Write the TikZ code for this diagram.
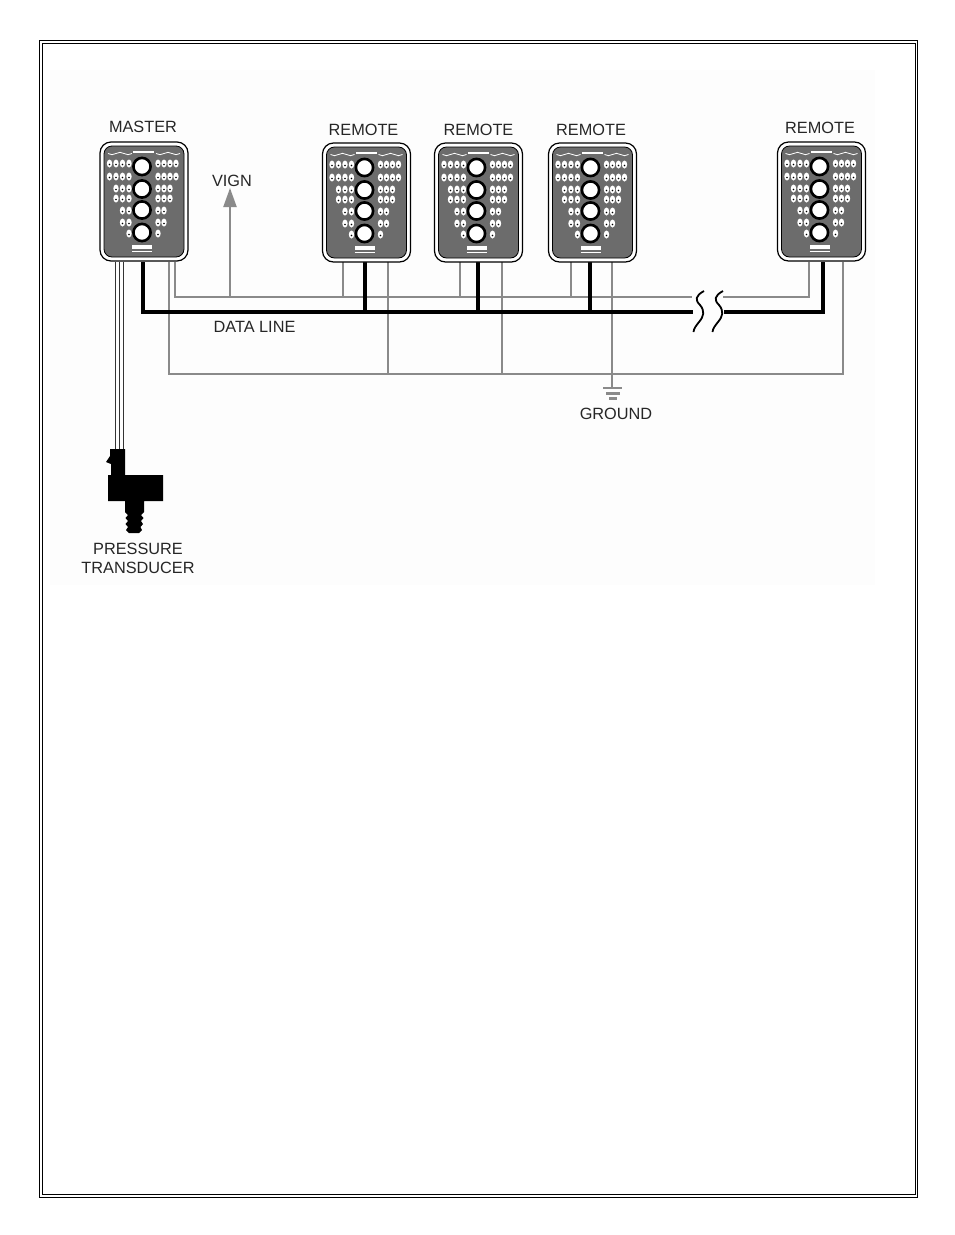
\documentclass[tikz,border=0pt]{standalone}
\usepackage{fontspec}
\setmainfont{Liberation Sans}
\usetikzlibrary{arrows.meta}
\definecolor{wiregray}{HTML}{8A8A8A}
\definecolor{facegray}{HTML}{6C6C6C}
\tikzset{
  lbl/.style={inner sep=0pt,text=black!85,font=\fontsize{16.3}{19}\selectfont,align=center},
  wire/.style={draw=wiregray,line width=2.1pt},
  dataline/.style={draw=black,line width=3.4pt},
  breakline/.style={draw=black,line width=1.8pt},
  panelbox/.style={draw=black,fill=white,line width=1.2pt,rounded corners=11pt,minimum width=88pt,minimum height=119pt,inner sep=0pt},
  panelface/.style={draw=black,fill=facegray,line width=.8pt,rounded corners=8pt,minimum width=80pt,minimum height=111pt,inner sep=0pt},
}
\newcommand{\panel}[3]{%
  \node[panelbox] (#1) at (#2,#3) {};
  \node[panelface] (#1-face) at (#2,#3) {};
  \begin{scope}[shift={(#2,#3)}]
    \draw[white,line width=.8pt] (-36,-48) to[bend right=30] (-28,-48) to[bend left=30] (-20,-48) to[bend right=30] (-12,-48);
    \draw[white,line width=.8pt] (12,-48) to[bend right=30] (20,-48) to[bend left=30] (28,-48) to[bend right=30] (36,-48);
    \fill[white] (-11,-51) rectangle (10,-48.5);
    \foreach \y/\nl/\nr in {-38/4/4,-25/4/4,-13/3/3,-3/3/3,9/2/2,21/2/2,32/1/1}{
      \foreach \i in {1,...,\nl}{
        \fill[white] (-8.5-6.5*\i,\y) ellipse (2.7 and 4);
        \fill[black] (-8.5-6.5*\i,\y+1) circle (.9);
      }
      \foreach \i in {1,...,\nr}{
        \fill[white] (8+6*\i,\y) ellipse (2.7 and 4);
        \fill[black] (8+6*\i,\y+1) circle (.9);
      }
    }
    \foreach \y in {-35,-12.5,8.5,31}{
      \draw[black,fill=white,line width=2.6pt] (-2,\y) circle (8.6);
    }
    \fill[white] (-12,43.5) rectangle (8,47.5);
    \draw[white,line width=.8pt] (-12,49.5) -- (8,49.5);
  \end{scope}
}
\begin{document}
\begin{tikzpicture}[x=1pt,y=-1pt]
  \useasboundingbox (0,0) rectangle (954,1235);
  \fill[black!.6] (50,70) rectangle (875,585);
  \draw[line width=.9pt] (39.5,40.5) rectangle (917.5,1197.5);
  \draw[line width=.9pt] (42.3,43.3) rectangle (915,1194.8);

  \coordinate (breakv-l) at (692,297);
  \coordinate (breakv-r) at (723,297);
  \coordinate (breakd-l) at (693,312);
  \coordinate (breakd-r) at (724,312);
  \coordinate (gnd-top) at (612,388);
  \coordinate (vign-bus) at (230,297);
  \coordinate (vign-tip) at (230,188);
  \coordinate (sens-a) at (115,449);
  \coordinate (sens-b) at (119,449);
  \coordinate (sens-c) at (123,449);

  % wires sit under the panels
  \draw[wire] (175,262) |- (breakv-l);
  \draw[wire] (breakv-r) -| (809,262);
  \draw[wire] (343,262) -- (343,297);
  \draw[wire] (460,262) -- (460,297);
  \draw[wire] (571,262) -- (571,297);
  \draw[wire] (169,262) |- (843,374) -- (843,262);
  \draw[wire] (388,262) -- (388,374);
  \draw[wire] (502,262) -- (502,374);
  \draw[wire] (612,262) -- (gnd-top);
  \draw[wire] (603,388) -- (622,388);
  \draw[wire] (606,393.5) -- (620,393.5);
  \draw[wire] (609,398.5) -- (617,398.5);
  \draw[wire,-{Triangle[width=13pt,length=19pt]}] (vign-bus) -- (vign-tip);
  \draw[dataline] (143,262) |- (breakd-l);
  \draw[dataline] (breakd-r) -| (823,262);
  \draw[dataline] (365,262) -- (365,312);
  \draw[dataline] (478,262) -- (478,312);
  \draw[dataline] (590,262) -- (590,312);
  \foreach \dx in {0,19}{
    \draw[breakline,xshift=\dx] (704,291) .. controls (695,296) and (695,300) .. (700,305)
      .. controls (705,311) and (704,316) .. (699,322) .. controls (696,326) and (694,328) .. (693.5,332);
  }
  \draw[black!80,line width=.9pt] (115,262) -- (sens-a);
  \draw[black!80,line width=.9pt] (119,262) -- (sens-b);
  \draw[black!80,line width=.9pt] (123,262) -- (sens-c);

  \panel{master}{144}{201.5}
  \panel{remotea}{366.5}{202.5}
  \panel{remoteb}{478.5}{202.5}
  \panel{remotec}{592.5}{202.5}
  \panel{remoted}{821.5}{201.5}

  \fill[black] (110,449) -- (125,449) -- (125,475) -- (163,475) -- (163,501) -- (144,501) -- (144,512)
    -- (141,515) -- (143.5,518) -- (141,521) -- (143,524) -- (140.5,527) -- (142,530) -- (139,533)
    -- (129,533) -- (126,530) -- (128,527) -- (125.5,524) -- (128,521) -- (125.5,518) -- (128,515) -- (125,512)
    -- (125,501) -- (108,501) -- (108,475) -- (111,475) -- (111,464) -- (106,462) -- (110,456) -- cycle;

  \node[lbl] (lblmaster) at (143,126.6) {MASTER};
  \node[lbl] (lblremotea) at (363.5,129.6) {REMOTE};
  \node[lbl] (lblremoteb) at (478.5,129.6) {REMOTE};
  \node[lbl] (lblremotec) at (591,129.6) {REMOTE};
  \node[lbl] (lblremoted) at (820,127.6) {REMOTE};
  \node[lbl] (lblvign) at (232,180.6) {VIGN};
  \node[lbl] (lbldata) at (254.5,326.6) {DATA LINE};
  \node[lbl] (lblground) at (616,413.6) {GROUND};
  \node[lbl] (lblsensor) at (138,558) {PRESSURE\\TRANSDUCER};
\end{tikzpicture}
\end{document}
